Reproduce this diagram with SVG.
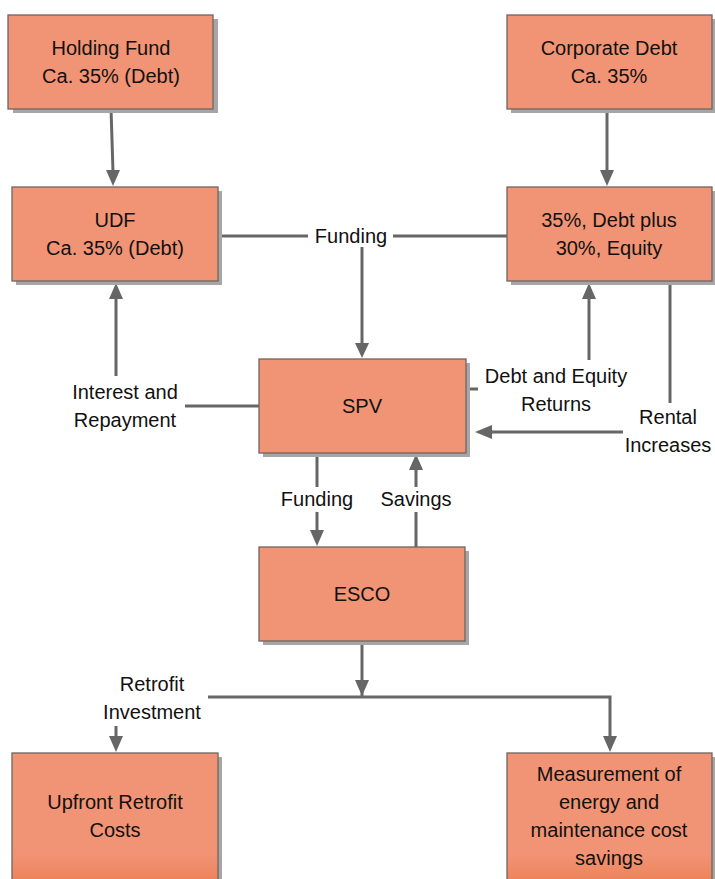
<svg xmlns="http://www.w3.org/2000/svg" width="715" height="879" viewBox="0 0 715 879">
  <defs>
    <style>
      .box { fill: #F19475; stroke: #6f6461; stroke-width: 1.3; }
      .shadow { fill: #a6a6a6; }
      .lbl { font-family: "Liberation Sans", Arial, sans-serif; font-size: 20px; fill: #111; text-anchor: middle; }
      .wire { stroke: #666; stroke-width: 3; fill: none; }
      .head { fill: #666; }
    </style>
    <linearGradient id="lowFill" x1="0" y1="0" x2="0" y2="1">
      <stop offset="0" stop-color="#F19475"/>
      <stop offset="0.72" stop-color="#F19475"/>
      <stop offset="1" stop-color="#EC7A4E"/>
    </linearGradient>
  </defs>

  <rect width="715" height="879" fill="#ffffff"/>

  <!-- connectors -->
  <g id="connectors">
    <!-- Holding Fund -> UDF -->
    <path class="wire" d="M111,108 L113,172"/>
    <polygon class="head" points="106,170 120,170 113,186"/>
    <!-- Corporate Debt -> 35% Debt plus -->
    <path class="wire" d="M607,108 L607,172"/>
    <polygon class="head" points="600,170 614,170 607,186"/>
    <!-- Funding bus -->
    <path class="wire" d="M218,236 L308,236 M393,236 L507,236"/>
    <path class="wire" d="M362,247 L362,345"/>
    <polygon class="head" points="355,343 369,343 362,358"/>
    <!-- Interest and Repayment -->
    <path class="wire" d="M259,406 L185,406"/>
    <path class="wire" d="M116,376 L116,297"/>
    <polygon class="head" points="109,299 123,299 116,283"/>
    <!-- Debt and Equity Returns -->
    <path class="wire" d="M466,389 L478,389"/>
    <path class="wire" d="M589,360 L589,297"/>
    <polygon class="head" points="582,299 596,299 589,283"/>
    <!-- Rental Increases -->
    <path class="wire" d="M670,281 L670,403"/>
    <path class="wire" d="M623,432 L490,432"/>
    <polygon class="head" points="492,425 492,439 475,432"/>
    <!-- SPV -> ESCO funding -->
    <path class="wire" d="M317,453 L317,487 M317,512 L317,532"/>
    <polygon class="head" points="310,530 324,530 317,546"/>
    <!-- ESCO -> SPV savings -->
    <path class="wire" d="M416,547 L416,512 M416,487 L416,468"/>
    <polygon class="head" points="409,470 423,470 416,454"/>
    <!-- ESCO -> retrofit split -->
    <path class="wire" d="M362,641 L362,682"/>
    <polygon class="head" points="355,680 369,680 362,696"/>
    <path class="wire" d="M362,682 L362,697 M208,697 L610,697 L610,738"/>
    <polygon class="head" points="603,736 617,736 610,752"/>
    <path class="wire" d="M116,726 L116,738"/>
    <polygon class="head" points="109,736 123,736 116,752"/>
  </g>

  <!-- edge labels -->
  <g id="edge-labels">
    <text class="lbl" x="351" y="243">Funding</text>
    <text class="lbl" x="125" y="399">Interest and</text>
    <text class="lbl" x="125" y="427">Repayment</text>
    <text class="lbl" x="556" y="383">Debt and Equity</text>
    <text class="lbl" x="556" y="411">Returns</text>
    <text class="lbl" x="668" y="424">Rental</text>
    <text class="lbl" x="668" y="452">Increases</text>
    <text class="lbl" x="317" y="506">Funding</text>
    <text class="lbl" x="416" y="506">Savings</text>
    <text class="lbl" x="152" y="691">Retrofit</text>
    <text class="lbl" x="152" y="719">Investment</text>
  </g>

  <g id="holding-fund">
    <rect class="shadow" x="13" y="19" width="205" height="94"/>
    <rect class="box" x="8" y="15" width="205" height="94"/>
    <text class="lbl" x="111" y="55">Holding Fund</text>
    <text class="lbl" x="111" y="83">Ca. 35% (Debt)</text>
  </g>

  <g id="corporate-debt">
    <rect class="shadow" x="511" y="19" width="205" height="94"/>
    <rect class="box" x="507" y="15" width="205" height="94"/>
    <text class="lbl" x="609" y="55">Corporate Debt</text>
    <text class="lbl" x="609" y="83">Ca. 35%</text>
  </g>

  <g id="udf">
    <rect class="shadow" x="16" y="191" width="206" height="94"/>
    <rect class="box" x="12" y="187" width="206" height="94"/>
    <text class="lbl" x="115" y="227">UDF</text>
    <text class="lbl" x="115" y="255">Ca. 35% (Debt)</text>
  </g>

  <g id="debt-equity">
    <rect class="shadow" x="511" y="191" width="205" height="94"/>
    <rect class="box" x="507" y="187" width="205" height="94"/>
    <text class="lbl" x="609" y="227">35%, Debt plus</text>
    <text class="lbl" x="609" y="255">30%, Equity</text>
  </g>

  <g id="spv">
    <rect class="shadow" x="263" y="363" width="207" height="94"/>
    <rect class="box" x="259" y="359" width="207" height="94"/>
    <text class="lbl" x="362" y="413">SPV</text>
  </g>

  <g id="esco">
    <rect class="shadow" x="263" y="551" width="206" height="94"/>
    <rect class="box" x="259" y="547" width="206" height="94"/>
    <text class="lbl" x="362" y="601">ESCO</text>
  </g>

  <g id="upfront-costs">
    <rect class="shadow" x="16" y="757" width="206" height="140"/>
    <rect class="box" x="12" y="753" width="206" height="140" style="fill:url(#lowFill)"/>
    <text class="lbl" x="115" y="809">Upfront Retrofit</text>
    <text class="lbl" x="115" y="837">Costs</text>
  </g>

  <g id="measurement">
    <rect class="shadow" x="511" y="757" width="205" height="140"/>
    <rect class="box" x="507" y="753" width="205" height="140" style="fill:url(#lowFill)"/>
    <text class="lbl" x="609" y="781">Measurement of</text>
    <text class="lbl" x="609" y="809">energy and</text>
    <text class="lbl" x="609" y="837">maintenance cost</text>
    <text class="lbl" x="609" y="865">savings</text>
  </g>
</svg>
